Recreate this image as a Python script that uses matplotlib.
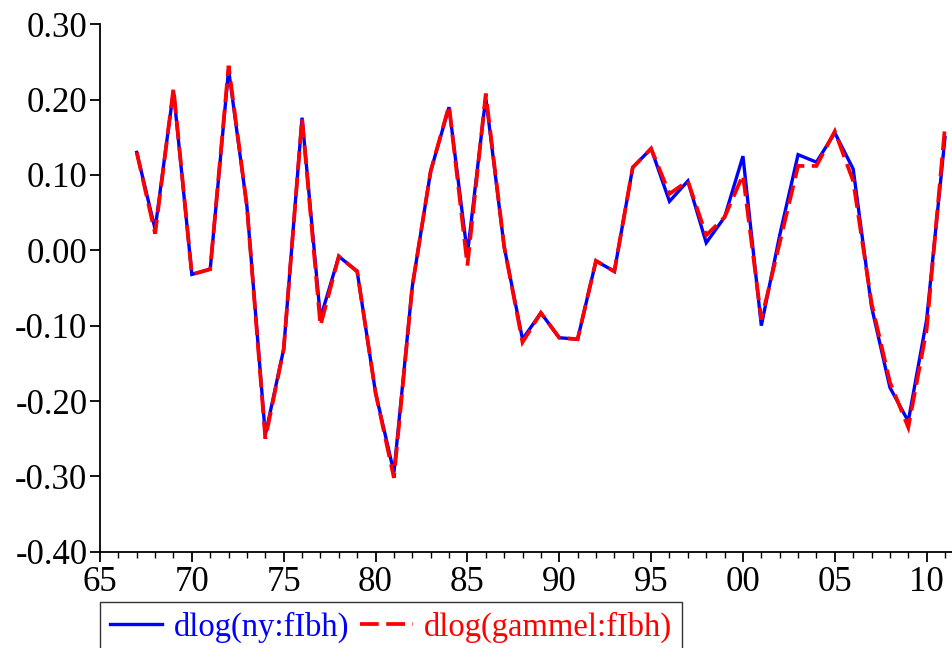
import matplotlib
matplotlib.use("Agg")
import matplotlib.pyplot as plt
from matplotlib.ticker import FixedLocator, MultipleLocator, FuncFormatter

years = list(range(1967, 2012))
ny_flbh = [0.13, 0.028, 0.212, -0.032, -0.025, 0.24, 0.058, -0.245, -0.131, 0.176,
           -0.09, -0.008, -0.028, -0.189, -0.295, -0.048, 0.105, 0.19, -0.005, 0.203,
           0.005, -0.118, -0.083, -0.116, -0.118, -0.014, -0.028, 0.11, 0.135, 0.065,
           0.092, 0.01, 0.044, 0.125, -0.10, 0.02, 0.127, 0.117, 0.156, 0.108,
           -0.075, -0.182, -0.227, -0.092, 0.15]
gammel_flbh = [0.13, 0.022, 0.215, -0.032, -0.025, 0.245, 0.058, -0.25, -0.131, 0.175,
               -0.10, -0.008, -0.028, -0.189, -0.302, -0.048, 0.105, 0.192, -0.02, 0.208,
               0.005, -0.122, -0.083, -0.116, -0.118, -0.014, -0.028, 0.11, 0.135, 0.075,
               0.092, 0.02, 0.044, 0.10, -0.092, 0.01, 0.112, 0.112, 0.158, 0.092,
               -0.07, -0.175, -0.235, -0.105, 0.165]
x_major = [1965, 1970, 1975, 1980, 1985, 1990, 1995, 2000, 2005, 2010]
y_ticks = [-0.40, -0.30, -0.20, -0.10, 0.00, 0.10, 0.20, 0.30]
labels = ["dlog(ny:fIbh)", "dlog(gammel:fIbh)"]

plt.rcParams['font.family'] = ['Liberation Serif', 'DejaVu Serif']

fig = plt.figure(figsize=(9.52, 6.48), dpi=100)
ax = fig.add_axes([100/952, 1 - 551.7/648, 1 - 100/952, (551.7 - 24.3)/648])

l1, = ax.plot(years, ny_flbh, color='#0000ff', lw=2.4, solid_joinstyle='miter')
l2, = ax.plot(years, gammel_flbh, color='#ff0000', lw=2.7, dashes=(5, 2),
              dash_joinstyle='miter')

ax.set_xlim(1965, 2011.38)
ax.set_ylim(-0.40, 0.30)
ax.xaxis.set_major_locator(FixedLocator(x_major))
ax.xaxis.set_minor_locator(MultipleLocator(1))
ax.xaxis.set_major_formatter(FuncFormatter(lambda v, p: "%02d" % (int(round(v)) % 100)))
ax.yaxis.set_major_locator(FixedLocator(y_ticks))
ax.yaxis.set_major_formatter(FuncFormatter(lambda v, p: "%.2f" % v))

for s in ['top', 'right']:
    ax.spines[s].set_visible(False)
for s in ['left', 'bottom']:
    ax.spines[s].set_linewidth(1.3)
    ax.spines[s].set_color('black')

ax.tick_params(axis='both', which='major', direction='out', length=7, width=1.3,
               labelsize=25, pad=2, colors='black')
ax.tick_params(axis='x', which='minor', direction='out', length=4, width=1.0)
ax.tick_params(axis='x', which='major', pad=3)

leg = fig.legend([l1, l2], labels, loc='upper left', bbox_to_anchor=(100/952, 1 - 602/648),
                 ncol=2, fontsize=23.5, frameon=True, fancybox=False, shadow=False,
                 handlelength=1.6, handletextpad=0.35, columnspacing=0.35,
                 borderpad=0.3, borderaxespad=0)
leg.get_frame().set_edgecolor('black')
leg.get_frame().set_linewidth(1.0)
for t, c in zip(leg.get_texts(), ['#0000ff', '#ff0000']):
    t.set_color(c)

fig.savefig('out.png', dpi=100)
